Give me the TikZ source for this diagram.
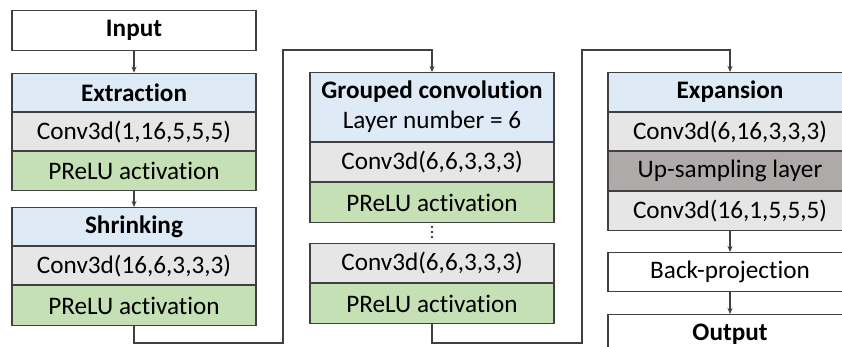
\documentclass[tikz,border=0pt]{standalone}
\usepackage{fontspec}
\setmainfont[Ligatures={NoCommon}]{Carlito}
\usetikzlibrary{arrows.meta}
\definecolor{hdrblue}{HTML}{DEEBF7}
\definecolor{convgray}{HTML}{E7E6E6}
\definecolor{actgreen}{HTML}{C5E0B4}
\definecolor{upgray}{HTML}{AEAAAA}
\definecolor{edge}{HTML}{404040}
\tikzset{
  blk/.style={draw=edge, line width=1.1pt, minimum width=244pt, minimum height=#1,
              anchor=north, inner sep=0pt, align=center,
              font=\fontsize{25.2}{30}\selectfont},
  hdr/.style={blk=#1, fill=hdrblue},
  conv/.style={blk=#1, fill=convgray},
  act/.style={blk=#1, fill=actgreen},
  upl/.style={blk=#1, fill=upgray},
  plain/.style={blk=#1, fill=white},
  arr/.style={draw=edge, line width=1.1pt, -{Stealth[length=6pt,width=5pt]}}
}
\begin{document}
\begin{tikzpicture}[x=1pt,y=-1pt]
\useasboundingbox (0,0) rectangle (842,347);
\fill[white] (0,0) rectangle (842,347);

% left column: input, extraction, shrinking
\node[plain=40pt] (inp) at (134,10) {\textbf{Input}};
\node[hdr=38.3pt] (exh) at (134,72.7) {\textbf{Extraction}};
\node[conv=38pt] (exc) at (exh.south) {Conv3d(1,16,5,5,5)};
\node[act=39pt] (exa) at (exc.south) {PReLU activation};
\node[hdr=38pt] (shh) at (134,207) {\textbf{Shrinking}};
\node[conv=38pt] (shc) at (shh.south) {Conv3d(16,6,3,3,3)};
\node[act=40pt] (sha) at (shc.south) {PReLU activation};

% middle column: grouped convolution
\node[hdr=69pt] (gch) at (432,72) {\textbf{Grouped convolution}\\Layer number = 6};
\node[conv=39pt] (gc1) at (gch.south) {Conv3d(6,6,3,3,3)};
\node[act=40pt] (ga1) at (gc1.south) {PReLU activation};
\node[conv=39pt] (gc2) at (432,243) {Conv3d(6,6,3,3,3)};
\node[act=40pt] (ga2) at (gc2.south) {PReLU activation};
\foreach \yy in {227,232,237} \fill[edge] (432,\yy) circle (1.4pt);

% right column: expansion, back-projection, output
\node[hdr=39pt] (xph) at (730,72) {\textbf{Expansion}};
\node[conv=38pt] (xc1) at (xph.south) {Conv3d(6,16,3,3,3)};
\node[upl=39pt] (xup) at (xc1.south) {Up-sampling layer};
\node[conv=39pt] (xc2) at (xup.south) {Conv3d(16,1,5,5,5)};
\node[plain=39pt] (bp) at (730,252) {Back-projection};
\node[plain=40pt] (out) at (730,314) {\textbf{Output}};

% connectors
\draw[arr] (inp.south) -- (exh.north);
\draw[arr] (exa.south) -- (shh.north);
\coordinate (j1) at (283,343);
\coordinate (j2) at (283,50);
\draw[arr] (sha.south) |- (j1) -- (j2) -| (gch.north);
\coordinate (k1) at (582,343);
\coordinate (k2) at (582,50);
\draw[arr] (ga2.south) |- (k1) -- (k2) -| (xph.north);
\draw[arr] (xc2.south) -- (bp.north);
\draw[arr] (bp.south) -- (out.north);
\end{tikzpicture}
\end{document}
